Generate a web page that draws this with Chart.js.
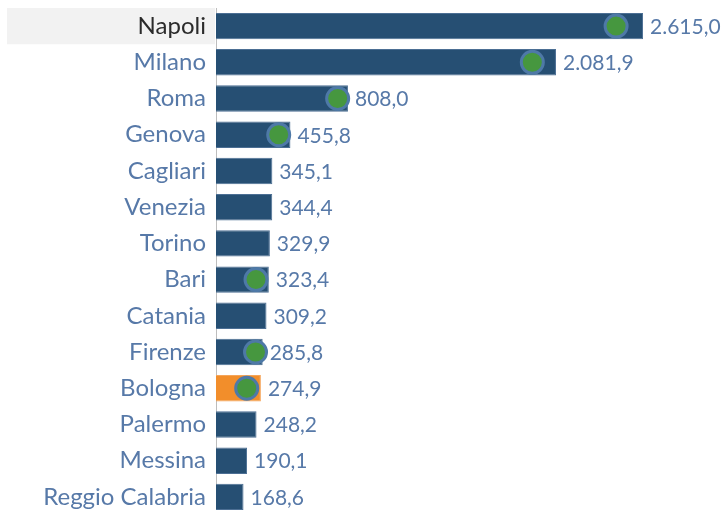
<!DOCTYPE html>
<html>
<head>
<meta charset="utf-8">
<script src="https://cdn.jsdelivr.net/npm/chart.js@4"></script>
<style>
  html, body { margin: 0; padding: 0; background: #fff; overflow: hidden; }
  #wrap { position: relative; width: 726px; height: 515px; }
</style>
</head>
<body>
<div id="wrap"><canvas id="c"></canvas></div>
<script>
const cities = ["Napoli","Milano","Roma","Genova","Cagliari","Venezia","Torino","Bari","Catania","Firenze","Bologna","Palermo","Messina","Reggio Calabria"];
const values = [2615.0, 2081.9, 808.0, 455.8, 345.1, 344.4, 329.9, 323.4, 309.2, 285.8, 274.9, 248.2, 190.1, 168.6];
const markers = [2450, 1937, 745, 384, null, null, null, 245, null, 242, 188, null, null, null];
const highlightCity = "Bologna";
const selectedCity = "Napoli";

const LABEL_BLUE = '#5779a8';

function fmtIt(v) {
  const parts = v.toFixed(1).split('.');
  const intPart = parts[0].replace(/\B(?=(\d{3})+(?!\d))/g, '.');
  return intPart + ',' + parts[1];
}

const rowHighlight = {
  id: 'rowHighlight',
  beforeDraw(chart) {
    const y = chart.scales.y;
    const idx = cities.indexOf(selectedCity);
    if (idx < 0) return;
    const c = y.getPixelForValue(idx);
    const half = (y.getPixelForValue(1) - y.getPixelForValue(0)) / 2;
    const ctx = chart.ctx;
    ctx.save();
    ctx.fillStyle = '#f2f2f2';
    ctx.fillRect(7, c - half, chart.chartArea.left - 7 - 1, half * 2);
    ctx.restore();
  }
};

const valueLabels = {
  id: 'valueLabels',
  afterDatasetsDraw(chart) {
    const meta = chart.getDatasetMeta(0);
    const ctx = chart.ctx;
    ctx.save();
    ctx.font = '21px Lato';
    ctx.fillStyle = LABEL_BLUE;
    ctx.textAlign = 'left';
    ctx.textBaseline = 'middle';
    meta.data.forEach((el, i) => {
      ctx.fillText(fmtIt(values[i]), el.x + 7, el.y + 1);
    });
    ctx.restore();
  }
};

new Chart(document.getElementById('c'), {
  data: {
    labels: cities,
    datasets: [
      {
        type: 'bar',
        data: values,
        backgroundColor: cities.map(c => c === highlightCity ? '#f28e2b' : '#264f73'),
        borderColor: cities.map(c => c === highlightCity ? '#f5a55a' : '#4c6f94'),
        borderWidth: 1,
        borderSkipped: 'left',
        barPercentage: 0.73,
        categoryPercentage: 1.0,
        order: 2
      },
      {
        type: 'line',
        data: markers,
        showLine: false,
        clip: false,
        pointRadius: 11,
        pointHoverRadius: 11,
        pointBackgroundColor: '#46973f',
        pointBorderColor: '#4e79a7',
        pointBorderWidth: 3,
        order: 1
      }
    ]
  },
  options: {
    indexAxis: 'y',
    responsive: true,
    maintainAspectRatio: false,
    animation: false,
    events: [],
    layout: { autoPadding: false, padding: { top: 8, right: 0, bottom: 0, left: 0 } },
    plugins: { legend: { display: false }, tooltip: { enabled: false } },
    scales: {
      x: {
        display: false,
        min: 0,
        max: 3123
      },
      y: {
        grid: { display: false, drawTicks: false },
        border: { display: true, color: '#bdbdbd', dash: [1, 2], width: 1 },
        ticks: {
          padding: 10,
          font: { family: 'Lato', size: 24 },
          color: ctx => cities[ctx.index] === selectedCity ? '#2b2b2b' : LABEL_BLUE
        },
        afterFit(scale) {
          scale.width = 216;
          scale.paddingTop = 0;
          scale.paddingBottom = 0;
        }
      }
    }
  },
  plugins: [rowHighlight, valueLabels]
});
</script>
</body>
</html>
